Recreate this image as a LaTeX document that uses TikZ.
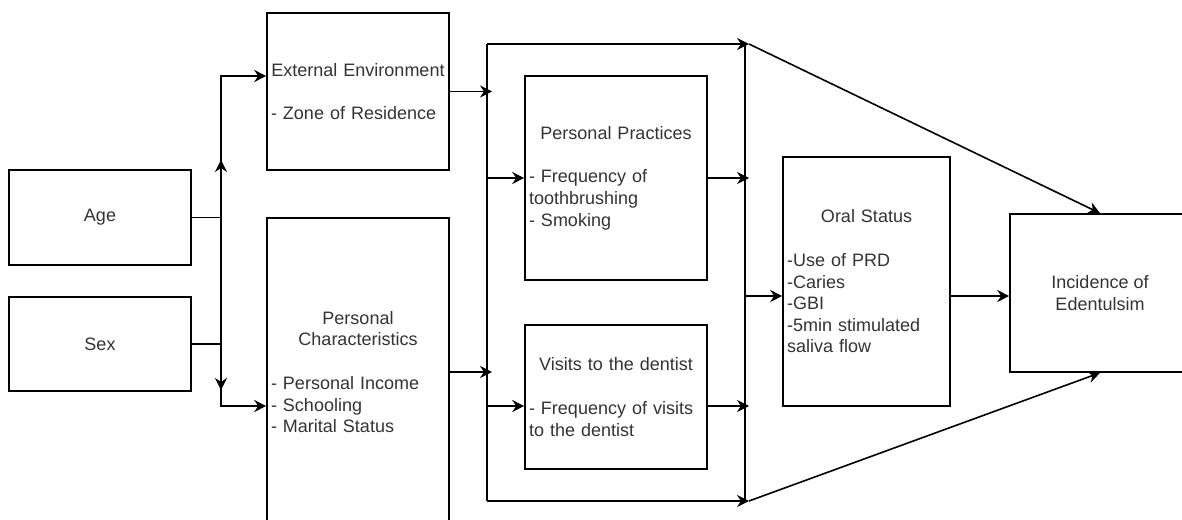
\documentclass[tikz,border=0pt]{standalone}
\usepackage{fontspec}
\setmainfont{Liberation Sans}
\usetikzlibrary{arrows.meta}
\setlength{\parindent}{0pt}

\begin{document}
\begin{tikzpicture}[x=1pt, y=-1pt, line width=1.6pt,
  >={Stealth[length=12pt, width=12pt, inset=4pt]},
  box/.style={draw, rectangle, inner xsep=4pt, inner ysep=0pt, text=black!80,
    font=\fontsize{18}{21.6}\selectfont}]
  \useasboundingbox (0,0) rectangle (1182,519);
  % boxes
  \node[box, minimum width=182pt, minimum height=95pt] (age) at (100,217.5) {Age};
  \node[box, minimum width=182pt, minimum height=94pt] (sex) at (100,344) {Sex};
  \node[box, text width=174pt, minimum width=182pt, minimum height=157pt] (env) at (358,91.5)
    {\centering External Environment\par\vspace{22pt}\raggedright - Zone of Residence\par};
  \node[box, text width=174pt, minimum width=182pt, minimum height=308pt] (pers) at (358,372)
    {\centering Personal\\Characteristics\par\vspace{22pt}\raggedright
     - Personal Income\\- Schooling\\- Marital Status\par};
  \node[box, text width=174pt, minimum width=182pt, minimum height=204pt] (pp) at (616,178)
    {\centering Personal Practices\par\vspace{22pt}\raggedright
     - Frequency of\\toothbrushing\\- Smoking\par};
  \node[box, text width=174pt, minimum width=182pt, minimum height=144pt] (vd) at (616,397)
    {\centering Visits to the dentist\par\vspace{22pt}\raggedright
     - Frequency of visits\\to the dentist\par};
  \node[box, text width=159pt, minimum width=167pt, minimum height=249pt] (os) at (866.5,281.5)
    {\centering Oral Status\par\vspace{22pt}\raggedright
     -Use of PRD\\-Caries\\-GBI\\-5min stimulated\\saliva flow\par};
  \node[box, align=center, minimum width=180pt, minimum height=158pt] (inc) at (1100,293)
    {Incidence of\\Edentulsim};
  % bus lines
  \coordinate (busL) at (221,0);
  \coordinate (busM) at (487,0);
  \coordinate (busR) at (745,0);
  \coordinate (upTip) at (221,160);
  \coordinate (downTip) at (221,390);
  \coordinate (mTop) at (487,44);
  \coordinate (mBot) at (487,501);
  \coordinate (rTop) at (749,44);
  \coordinate (rBot) at (749,501);
  % age and sex
  \draw[->] (age.east) -- (age.east -| busL) |- ([yshift=15.5pt]env.west);
  \draw[->] (sex.east) -- (sex.east -| busL) |- ([yshift=-34pt]pers.west);
  \draw[->] (sex.east -| busL) -- (upTip);
  \draw[->] (age.east -| busL) -- (downTip);
  % middle
  \draw (mTop) -- (mBot);
  \draw[->] (mTop) -- (rTop);
  \draw[->] (mBot) -- (rBot);
  \draw (busR |- mTop) -- (busR |- mBot);
  \draw[->] (env.east) -- ([xshift=5pt]env.east -| busM);
  \draw[->] (pers.east) -- ([xshift=5pt]pers.east -| busM);
  \draw[->] (pp.west -| busM) -- (pp.west);
  \draw[->] ([yshift=-9pt]vd.west -| busM) -- ([yshift=-9pt]vd.west);
  \draw[->] (pp.east) -- ([xshift=4pt]pp.east -| busR);
  \draw[->] ([yshift=-9pt]vd.east) -- ([xshift=4pt, yshift=-9pt]vd.east -| busR);
  % right
  \draw[->] ([yshift=-14.5pt]os.west -| busR) -- ([yshift=-14.5pt]os.west);
  \draw[->] ([yshift=-14.5pt]os.east) -- ([yshift=-14.5pt]os.east -| inc.west);
  \draw[->] (rTop) -- (inc.north);
  \draw[->] (rBot) -- (inc.south);
\end{tikzpicture}
\end{document}
